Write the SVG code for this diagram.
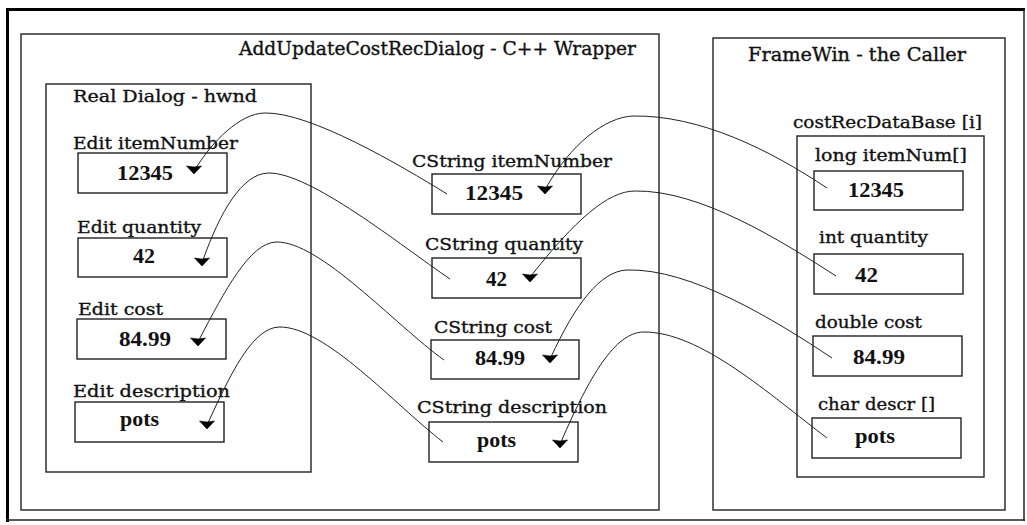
<svg xmlns="http://www.w3.org/2000/svg" width="1027" height="525" viewBox="0 0 1027 525">
<style>
.box{fill:none;stroke:#222;stroke-width:1.4}
.lbl{font-family:"DejaVu Serif","Liberation Serif",serif;font-size:17px;fill:#111;stroke:#111;stroke-width:0.35}
.ttl{font-family:"DejaVu Serif","Liberation Serif",serif;font-size:18px;fill:#111;stroke:#111;stroke-width:0.35}
.val{font-family:"Liberation Serif","DejaVu Serif",serif;font-size:20px;font-weight:bold;fill:#111}
.con{fill:none;stroke:#222;stroke-width:1}
.ah{fill:#000;stroke:#000;stroke-width:0.6}
</style>
<defs>
<path id="ahd" d="M-7.5,-8 L0,-7 L7.5,-8 L0,0 Z"/>
</defs>
<rect x="0" y="0" width="1027" height="525" fill="#fff"/>
<g id="frame">
<line x1="7.5" y1="8" x2="7.5" y2="522" stroke="#000" stroke-width="3"/>
<line x1="6" y1="9.5" x2="1025" y2="9.5" stroke="#000" stroke-width="3"/>
<line x1="1024" y1="9" x2="1024" y2="521" stroke="#222" stroke-width="1.5"/>
<line x1="6" y1="520" x2="1025" y2="520" stroke="#222" stroke-width="1.5"/>
</g>
<g id="wrapper">
<rect class="box" x="21" y="34" width="638" height="476"/>
<text class="ttl" x="239" y="55" textLength="397" lengthAdjust="spacingAndGlyphs">AddUpdateCostRecDialog - C++ Wrapper</text>
</g>
<g id="realDialog">
<rect class="box" x="46" y="84" width="265" height="388"/>
<text class="lbl" x="73" y="102" textLength="184" lengthAdjust="spacingAndGlyphs">Real Dialog - hwnd</text>
</g>
<g id="editItemNumber">
<text class="lbl" x="73" y="149" textLength="165" lengthAdjust="spacingAndGlyphs">Edit itemNumber</text>
<rect class="box" x="78" y="153" width="149" height="40"/>
<text class="val" x="117" y="180" textLength="56" lengthAdjust="spacingAndGlyphs">12345</text>
</g>
<g id="editQuantity">
<text class="lbl" x="77" y="233" textLength="124" lengthAdjust="spacingAndGlyphs">Edit quantity</text>
<rect class="box" x="78" y="238" width="149" height="39"/>
<text class="val" x="133" y="263" textLength="22" lengthAdjust="spacingAndGlyphs">42</text>
</g>
<g id="editCost">
<text class="lbl" x="78" y="315" textLength="85" lengthAdjust="spacingAndGlyphs">Edit cost</text>
<rect class="box" x="77" y="319" width="149" height="40"/>
<text class="val" x="119" y="346" textLength="52" lengthAdjust="spacingAndGlyphs">84.99</text>
</g>
<g id="editDescription">
<text class="lbl" x="73" y="397" textLength="157" lengthAdjust="spacingAndGlyphs">Edit description</text>
<rect class="box" x="75" y="402" width="149" height="40"/>
<text class="val" x="120" y="426" textLength="39" lengthAdjust="spacingAndGlyphs">pots</text>
</g>
<g id="cstrItemNumber">
<text class="lbl" x="412" y="167" textLength="200" lengthAdjust="spacingAndGlyphs">CString itemNumber</text>
<rect class="box" x="432" y="174" width="149" height="40"/>
<text class="val" x="465" y="200" textLength="58" lengthAdjust="spacingAndGlyphs">12345</text>
</g>
<g id="cstrQuantity">
<text class="lbl" x="425" y="250" textLength="158" lengthAdjust="spacingAndGlyphs">CString quantity</text>
<rect class="box" x="432" y="258" width="149" height="40"/>
<text class="val" x="486" y="286" textLength="21" lengthAdjust="spacingAndGlyphs">42</text>
</g>
<g id="cstrCost">
<text class="lbl" x="434" y="333" textLength="118" lengthAdjust="spacingAndGlyphs">CString cost</text>
<rect class="box" x="431" y="340" width="148" height="39"/>
<text class="val" x="475" y="365" textLength="50" lengthAdjust="spacingAndGlyphs">84.99</text>
</g>
<g id="cstrDescription">
<text class="lbl" x="417" y="413" textLength="190" lengthAdjust="spacingAndGlyphs">CString description</text>
<rect class="box" x="429" y="422" width="149" height="40"/>
<text class="val" x="477" y="447" textLength="39" lengthAdjust="spacingAndGlyphs">pots</text>
</g>
<g id="frameWin">
<rect class="box" x="713" y="38" width="292" height="472"/>
<text class="ttl" x="748" y="61" textLength="218" lengthAdjust="spacingAndGlyphs">FrameWin - the Caller</text>
</g>
<g id="costRecDataBase">
<text class="lbl" x="793" y="128" textLength="189" lengthAdjust="spacingAndGlyphs">costRecDataBase [i]</text>
<rect class="box" x="797" y="136" width="187" height="341"/>
</g>
<g id="longItemNum">
<text class="lbl" x="815" y="161" textLength="152" lengthAdjust="spacingAndGlyphs">long itemNum[]</text>
<rect class="box" x="814" y="171" width="149" height="39"/>
<text class="val" x="848" y="197" textLength="56" lengthAdjust="spacingAndGlyphs">12345</text>
</g>
<g id="intQuantity">
<text class="lbl" x="819" y="243" textLength="109" lengthAdjust="spacingAndGlyphs">int quantity</text>
<rect class="box" x="814" y="254" width="149" height="40"/>
<text class="val" x="855" y="282" textLength="23" lengthAdjust="spacingAndGlyphs">42</text>
</g>
<g id="doubleCost">
<text class="lbl" x="815" y="328" textLength="107" lengthAdjust="spacingAndGlyphs">double cost</text>
<rect class="box" x="813" y="336" width="149" height="40"/>
<text class="val" x="853" y="364" textLength="52" lengthAdjust="spacingAndGlyphs">84.99</text>
</g>
<g id="charDescr">
<text class="lbl" x="818" y="410" textLength="117" lengthAdjust="spacingAndGlyphs">char descr []</text>
<rect class="box" x="812" y="418" width="149" height="40"/>
<text class="val" x="855" y="443" textLength="40" lengthAdjust="spacingAndGlyphs">pots</text>
</g>
<g id="connectors">
<path class="con" d="M447,194 C400,165 310,112 265,113 C240,113 212,142 196,168"/>
<path class="con" d="M450,279 C400,245 310,172 268,173 C242,174 220,212 203,260"/>
<path class="con" d="M444,360 C395,325 320,241 276,242 C250,243 225,290 199,340"/>
<path class="con" d="M443,442 C395,405 325,326 279,327 C252,328 230,375 208,423"/>
<path class="con" d="M827,188 C770,150 700,115 633,116 C605,117 570,145 546,188"/>
<path class="con" d="M836,276 C780,240 700,190 635,191 C608,191 575,220 531,276"/>
<path class="con" d="M832,358 C775,320 690,268 627,270 C600,271 575,305 551,357"/>
<path class="con" d="M827,438 C770,395 700,331 643,332 C615,333 590,375 561,442"/>
<use href="#ahd" class="ah" x="194" y="174"/>
<use href="#ahd" class="ah" x="202" y="266"/>
<use href="#ahd" class="ah" x="198" y="346"/>
<use href="#ahd" class="ah" x="207" y="429"/>
<use href="#ahd" class="ah" x="545" y="194"/>
<use href="#ahd" class="ah" x="530" y="282"/>
<use href="#ahd" class="ah" x="550" y="363"/>
<use href="#ahd" class="ah" x="560" y="448"/>
</g>
</svg>
